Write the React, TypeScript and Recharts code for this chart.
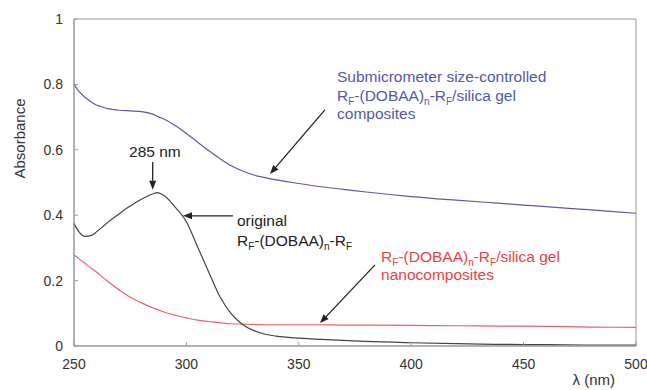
import React from "react";
import {
  LineChart,
  Line,
  XAxis,
  YAxis,
  ReferenceArea,
  ReferenceLine,
  ReferenceDot,
} from "recharts";

// wavelength grid (nm)
const wavelengths = [
  250, 252, 255, 258, 260, 263, 265, 268, 270, 275, 280, 285, 287, 290, 295, 300,
  305, 310, 315, 320, 325, 330, 335, 340, 350, 360, 370, 380, 400, 420, 440, 460,
  480, 500,
];

// submicrometer composites (blue)
const submicroValues = [
  0.8, 0.78, 0.76, 0.745, 0.737, 0.73, 0.726, 0.723, 0.721, 0.719, 0.717, 0.709,
  0.703, 0.694, 0.674, 0.65, 0.623, 0.597, 0.573, 0.551, 0.535, 0.523, 0.515,
  0.508, 0.497, 0.487, 0.479, 0.471, 0.457, 0.446, 0.436, 0.426, 0.416, 0.406,
];

// original RF-(DOBAA)n-RF (black)
const originalValues = [
  0.375, 0.351, 0.335, 0.339, 0.349, 0.366, 0.378, 0.394, 0.404, 0.428, 0.449,
  0.465, 0.469, 0.46, 0.425, 0.38, 0.303, 0.225, 0.15, 0.098, 0.066, 0.047,
  0.036, 0.03, 0.024, 0.02, 0.017, 0.014, 0.01, 0.007, 0.005, 0.004, 0.003, 0.003,
];

// nanocomposites (red)
const nanoValues = [
  0.278, 0.268, 0.252, 0.236, 0.226, 0.209, 0.198, 0.182, 0.172, 0.149, 0.132,
  0.117, 0.112, 0.104, 0.094, 0.086, 0.079, 0.075, 0.071, 0.068, 0.067, 0.066,
  0.065, 0.065, 0.065, 0.065, 0.064, 0.064, 0.063, 0.062, 0.061, 0.06, 0.058, 0.057,
];

const xTicks = [250, 300, 350, 400, 450, 500];
const yTicks = [0, 0.2, 0.4, 0.6, 0.8, 1];

type Piece = [string, boolean?];
const rf: Piece[] = [["R"], ["F", true], ["-(DOBAA)"], ["n", true], ["-R"], ["F", true]];

// annotation text: [x, y, color, pieces]
const notes: [number, number, string, Piece[]][] = [
  [286, 0.578, "#222", [["285 nm"]]],
  [322.5, 0.367, "#222", [["original"]]],
  [322.5, 0.307, "#222", rf],
  [367, 0.807, "#5058b0", [["Submicrometer size-controlled"]]],
  [367, 0.75, "#5058b0", [...rf, ["/silica gel"]]],
  [367, 0.693, "#5058b0", [["composites"]]],
  [386.6, 0.257, "#f04040", [...rf, ["/silica gel"]]],
  [386.6, 0.203, "#f04040", [["nanocomposites"]]],
];

// arrows: [fromX, fromY, toX, toY]
const arrows: [number, number, number, number][] = [
  [285, 0.563, 285, 0.478],
  [320.7, 0.398, 298.5, 0.398],
  [361.6, 0.722, 337.2, 0.526],
  [383.9, 0.248, 359.4, 0.07],
];

const data = wavelengths.map((w, i) => ({
  w,
  submicro: submicroValues[i],
  original: originalValues[i],
  nano: nanoValues[i],
}));

const FONT = '"Liberation Sans", Arial, sans-serif';

const Arrow = (p: any) => {
  const { x1, y1, x2, y2 } = p;
  const ang = Math.atan2(y2 - y1, x2 - x1);
  const len = 9;
  const w = 3.5;
  const bx = x2 - len * Math.cos(ang);
  const by = y2 - len * Math.sin(ang);
  const px = -Math.sin(ang) * w;
  const py = Math.cos(ang) * w;
  return (
    <g>
      <line x1={x1} y1={y1} x2={bx} y2={by} stroke="#222" strokeWidth={1.3} />
      <polygon
        points={`${x2},${y2} ${bx + px},${by + py} ${bx - px},${by - py}`}
        fill="#222"
      />
    </g>
  );
};

const noteShape = (pieces: Piece[], color: string, anchor: string) => (p: any) => {
  let shifted = false;
  return (
    <text x={p.cx} y={p.cy} fill={color} fontSize={15.5} fontFamily={FONT} textAnchor={anchor}>
      {pieces.map(([t, sub], i) => {
        let dy = 0;
        if (sub && !shifted) {
          dy = 4;
          shifted = true;
        } else if (!sub && shifted) {
          dy = -4;
          shifted = false;
        }
        return (
          <tspan key={i} dy={dy} fontSize={sub ? 10 : 15.5}>
            {t}
          </tspan>
        );
      })}
    </text>
  );
};

export default function App() {
  return (
    <div style={{ position: "absolute", left: 0, top: 0, background: "#fff" }}>
      <LineChart
        width={647}
        height={390}
        data={data}
        margin={{ top: 19, right: 11, bottom: 0, left: 0 }}
      >
        <XAxis
          dataKey="w"
          type="number"
          domain={[250, 500]}
          ticks={xTicks}
          height={44}
          tickSize={-4}
          tickMargin={17}
          stroke="#999"
          tick={{ fill: "#333", fontSize: 14, fontFamily: FONT }}
          label={{
            value: "λ (nm)",
            position: "insideBottomRight",
            offset: 5,
            fill: "#333",
            fontSize: 15,
            fontFamily: FONT,
            dx: -16,
          }}
        />
        <YAxis
          type="number"
          domain={[0, 1]}
          ticks={yTicks}
          width={74}
          tickSize={-4}
          tickMargin={15}
          stroke="#999"
          tickFormatter={(v: number) => (v === 0 || v === 1 ? String(v) : v.toFixed(1))}
          tick={{ fill: "#333", fontSize: 14, fontFamily: FONT }}
          label={{
            value: "Absorbance",
            angle: -90,
            position: "insideLeft",
            offset: 20,
            fill: "#333",
            fontSize: 15,
            fontFamily: FONT,
            dy: -4,
          }}
        />
        <ReferenceArea x1={250} x2={500} y1={0} y2={1} fill="none" stroke="#999" strokeWidth={1} />
        <Line
          dataKey="submicro"
          type="monotone"
          stroke="#5a5aa8"
          strokeWidth={1.2}
          dot={false}
          isAnimationActive={false}
        />
        <Line
          dataKey="nano"
          type="monotone"
          stroke="#f06060"
          strokeWidth={1.2}
          dot={false}
          isAnimationActive={false}
        />
        <Line
          dataKey="original"
          type="monotone"
          stroke="#444"
          strokeWidth={1.2}
          dot={false}
          isAnimationActive={false}
        />
        {arrows.map(([fx, fy, tx, ty], i) => (
          <ReferenceLine
            key={"a" + i}
            segment={[
              { x: fx, y: fy },
              { x: tx, y: ty },
            ]}
            shape={(p: any) => <Arrow {...p} />}
          />
        ))}
        {notes.map(([x, y, color, pieces], i) => (
          <ReferenceDot
            key={"n" + i}
            x={x}
            y={y}
            r={1}
            shape={noteShape(pieces, color, i === 0 ? "middle" : "start")}
          />
        ))}
      </LineChart>
    </div>
  );
}
